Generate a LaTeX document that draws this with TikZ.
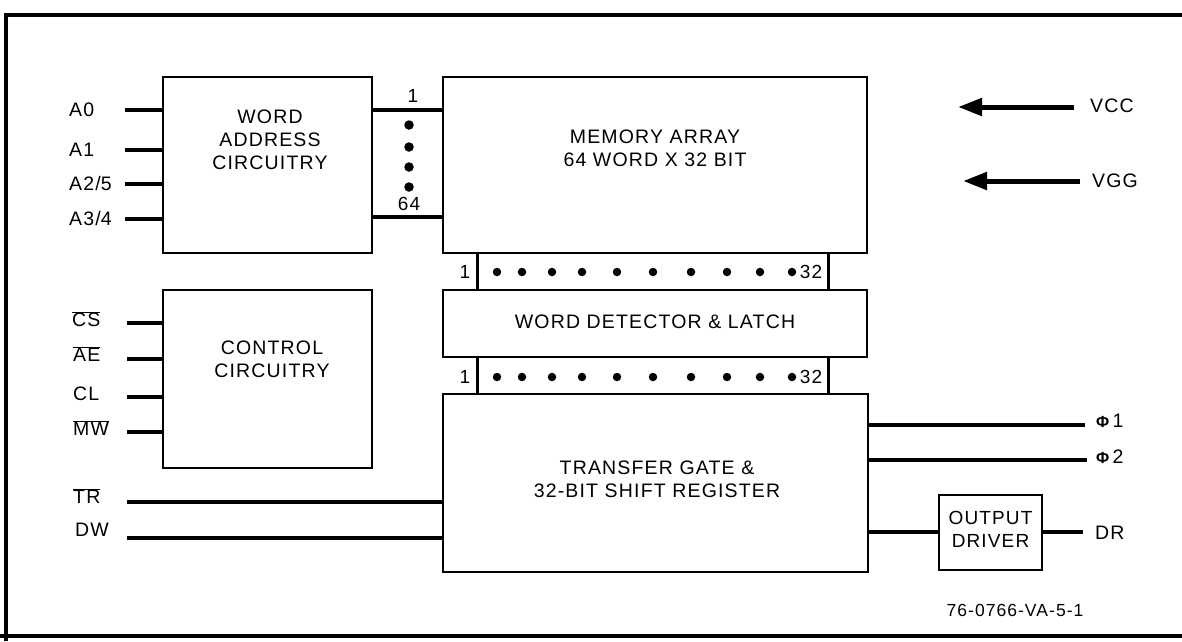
\documentclass[tikz,border=0pt]{standalone}
\usepackage{fontspec}
\setmainfont[LetterSpace=6]{Liberation Sans}
\usetikzlibrary{arrows.meta}
\newcommand{\ovl}[1]{$\overline{\mbox{#1}}$}
\tikzset{
  blk/.style={draw, line width=2.6pt, inner sep=0pt, align=center, font=\fontsize{19.5}{23}\selectfont},
  sig/.style={line width=4.2pt},
  lbl/.style={inner sep=0pt, align=center, font=\fontsize{19.5}{23}\selectfont},
  num/.style={inner sep=0pt, font=\fontsize{19}{20}\selectfont},
  frm/.style={line width=3.2pt},
  pwr/.style={line width=5pt, -{Triangle[length=24pt,width=17pt]}},
  bus/.style={line width=3pt},
  dot/.style={circle, fill, inner sep=0pt, minimum size=8.5pt}
}
\begin{document}
\begin{tikzpicture}[x=1pt,y=-1pt]
\useasboundingbox (0,0) rectangle (1182,641);
% frame
\draw[frm] (6,641) -- (6,15) -- (1182,15);
\draw[frm] (0,636) -- (1182,636);

% blocks
\node[blk, minimum width=209pt, minimum height=176pt] (wac) at (267.5,165) {};
\node[lbl] (wact) at (270,140) {WORD\\ADDRESS\\CIRCUITRY};
\node[blk, minimum width=209pt, minimum height=178pt] (cc) at (267.5,379) {};
\node[lbl] (cct) at (272,359) {CONTROL\\CIRCUITRY};
\node[blk, minimum width=424pt, minimum height=176pt] (ma) at (655,165) {};
\node[lbl] (mat) at (655,148) {MEMORY ARRAY\\64 WORD X 32 BIT};
\node[blk, minimum width=424pt, minimum height=67pt] (wdl) at (655,323.5) {};
\node[lbl] (wdlt) at (655,322) {WORD DETECTOR \& LATCH};
\node[blk, minimum width=425pt, minimum height=178pt] (tg) at (655.5,483) {};
\node[lbl] (tgt) at (657,479) {TRANSFER GATE \&\\32-BIT SHIFT REGISTER};
\node[blk, minimum width=103pt, minimum height=75pt] (od) at (990.5,532.5) {};
\node[lbl, font=\fontsize{19}{23}\selectfont] (odt) at (990.5,529) {OUTPUT\\DRIVER};

% address inputs
\foreach \n/\t/\y in {a0/A0/110, a1/A1/150, a25/A2\slash 5/184, a34/A3\slash 4/219}{
  \node[lbl, anchor=west] (l\n) at (69,\y) {\t};
  \coordinate (p\n) at (125,\y);
  \draw[sig] (p\n) -- (p\n -| wac.west);
}
% control inputs
\node[lbl, anchor=west] (lcs) at (72,319) {\ovl{CS}};
\node[lbl, anchor=west] (lae) at (73,354) {\ovl{AE}};
\node[lbl, anchor=west] (lcl) at (73,394) {CL};
\node[lbl, anchor=west] (lmw) at (73,428) {\ovl{MW}};
\foreach \n/\y in {cs/323, ae/359, cl/397, mw/432}{
  \coordinate (p\n) at (127,\y);
  \draw[sig] (p\n) -- (p\n -| cc.west);
}
\node[lbl, anchor=west] (ltr) at (73,496) {\ovl{TR}};
\node[lbl, anchor=west] (ldw) at (75,530) {DW};
\coordinate (ptr) at (127,502);
\coordinate (pdw) at (127,538);
\draw[sig] (ptr) -- (ptr -| tg.west);
\draw[sig] (pdw) -- (pdw -| tg.west);

% word lines 1..64
\coordinate (w1) at (372,110);
\coordinate (w64) at (372,217);
\draw[sig] (w1) -- (w1 -| ma.west);
\draw[sig] (w64) -- (w64 -| ma.west);
\node[num] (n1) at (413,96) {1};
\node[num] (n64) at (409,204) {64};
\foreach \y [count=\i] in {125,147,167,187}{
  \node[dot, minimum size=9.5pt] (vd\i) at (409,\y) {};
}

% bit buses
\foreach \yb/\yt/\k in {253/290/a, 357/394/b}{
  \coordinate (bl\k t) at (477,\yb);
  \coordinate (bl\k b) at (477,\yt);
  \coordinate (br\k t) at (828,\yb);
  \coordinate (br\k b) at (828,\yt);
  \draw[bus] (bl\k t) -- (bl\k b);
  \draw[bus] (br\k t) -- (br\k b);
}
\node[num] (b1a) at (465,272) {1};
\node[num] (b32a) at (811,272) {32};
\node[num] (b1b) at (465,377) {1};
\node[num] (b32b) at (811,377) {32};
\foreach \x [count=\i] in {497,522,552,582,617,653,691,727,760,792}{
  \node[dot] (da\i) at (\x,272) {};
  \node[dot] (db\i) at (\x,377) {};
}

% power
\node[lbl, anchor=west] (vcc) at (1090,106) {VCC};
\node[lbl, anchor=west] (vgg) at (1092,181) {VGG};
\coordinate (vcct) at (958,107);
\coordinate (vggt) at (963,181);
\draw[pwr] (vcc.west) ++(-16,1) -- (vcct);
\draw[pwr] (vgg.west) ++(-12,0) -- (vggt);

% clocks
\node[lbl, anchor=west] (ph1) at (1096,421) {{\fontsize{16}{17}\selectfont\bfseries Φ}\,1};
\node[lbl, anchor=west] (ph2) at (1096,457) {{\fontsize{16}{17}\selectfont\bfseries Φ}\,2};
\coordinate (c1) at (1085,425);
\coordinate (c2) at (1087,460);
\draw[sig] (c1 -| tg.east) -- (c1);
\draw[sig] (c2 -| tg.east) -- (c2);

% output
\node[lbl, anchor=west] (dr) at (1095,533) {DR};
\coordinate (cdr) at (1083,532);
\draw[sig] (od.west |- cdr) -- (od.west |- cdr -| tg.east);
\draw[sig] (od.east |- cdr) -- (cdr);

\node[lbl, font=\fontsize{17.5}{19}\selectfont] (fig) at (1015,610) {76-0766-VA-5-1};
\end{tikzpicture}
\end{document}
